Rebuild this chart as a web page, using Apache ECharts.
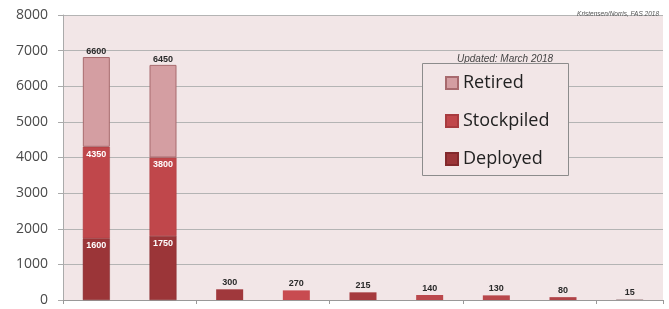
<!DOCTYPE html>
<html>
<head>
<meta charset="utf-8">
<script src="https://cdn.jsdelivr.net/npm/echarts@6/dist/echarts.min.js"></script>
<style>
  html, body { margin: 0; padding: 0; background: #fff; }
  #chart { width: 669px; height: 309px; }
</style>
</head>
<body>
<div id="chart"></div>
<script>
// categories (no labels shown on the axis)
const countries = ['Russia', 'United States', 'France', 'China', 'United Kingdom', 'Pakistan', 'India', 'Israel', 'North Korea'];

// stacked segments for the two big bars, as drawn
const deployed = [1730, 1800, '-', '-', '-', '-', '-', '-', '-'];
const stockpiled = [2570, 2200, '-', '-', '-', '-', '-', '-', '-'];
const retired = [2520, 2600, '-', '-', '-', '-', '-', '-', '-'];

// texts written on the segments
const deployedLabels = ['1600', '1750'];
const stockpiledLabels = ['4350', '3800'];
const totalLabels = ['6600', '6450'];

// the smaller arsenals
const others = ['-', '-', 300, 270, 215, 140, 130, 80, 15];
const otherColors = ['', '', '#a0383c', '#c84b50', '#a53a3e', '#bb484c', '#b8474b', '#b04347', '#9a7c7e'];

const yTicks = [0, 8000, 1000];

const pink = '#f2e6e7';
const myChart = echarts.init(document.getElementById('chart'));

const option = {
    backgroundColor: '#fff',
    animation: false,
    title: [{
        text: 'Updated: March 2018',
        left: 452, top: 49,
        textStyle: {fontSize: 10, fontStyle: 'italic', fontWeight: 'normal', color: '#444', fontFamily: 'Liberation Sans'}
    }, {
        text: 'Kristensen/Norris, FAS 2018',
        right: 5, top: 6,
        textStyle: {fontSize: 6.5, fontStyle: 'italic', fontWeight: 'normal', color: '#555', fontFamily: 'Liberation Sans'}
    }],
    graphic: {
        elements: [{
            type: 'rect', left: 422, top: 63, z: 10,
            shape: {width: 146, height: 112},
            style: {fill: pink, stroke: '#8c8c8c', lineWidth: 1}
        }]
    },
    legend: {
        data: ['Retired', 'Stockpiled', 'Deployed'],
        orient: 'vertical',
        left: 445, top: 73, z: 20,
        padding: 0,
        itemWidth: 12, itemHeight: 12, itemGap: 18,
        icon: 'rect',
        textStyle: {fontSize: 18, lineHeight: 20, color: '#222', fontFamily: 'Open Sans'}
    },
    grid: {
        left: 63, right: 6, top: 15, bottom: 9,
        show: true, backgroundColor: pink, borderWidth: 0
    },
    xAxis: {
        type: 'category',
        data: countries,
        axisLine: {lineStyle: {color: '#999', width: 1}},
        axisTick: {show: true, length: 4, lineStyle: {color: '#999'}},
        axisLabel: {show: false}
    },
    yAxis: {
        type: 'value',
        min: yTicks[0], max: yTicks[1], interval: yTicks[2],
        axisLine: {show: true, lineStyle: {color: '#aaa'}},
        axisTick: {show: true, length: 5, lineStyle: {color: '#aaa'}},
        axisLabel: {fontSize: 14, color: '#4a4a4a', margin: 15, fontFamily: 'Open Sans', formatter: v => String(v)},
        splitLine: {lineStyle: {color: '#b4b4b4', width: 1}}
    },
    series: [{
        name: 'Deployed', type: 'bar', stack: 'total', barWidth: 27,
        data: deployed,
        itemStyle: {color: '#9b3538', borderColor: '#82292c', borderWidth: 0.5},
        label: {
            show: true, position: 'insideTop', distance: 3,
            fontSize: 9, fontWeight: 'bold', color: '#fff', fontFamily: 'Liberation Sans',
            formatter: p => deployedLabels[p.dataIndex] || ''
        }
    }, {
        name: 'Stockpiled', type: 'bar', stack: 'total', barWidth: 27,
        data: stockpiled,
        itemStyle: {color: '#c0474b', borderColor: '#a83b3f', borderWidth: 0.5},
        label: {
            show: true, position: 'insideTop', distance: 3,
            fontSize: 9, fontWeight: 'bold', color: '#fff', fontFamily: 'Liberation Sans',
            formatter: p => stockpiledLabels[p.dataIndex] || ''
        }
    }, {
        name: 'Retired', type: 'bar', stack: 'total', barWidth: 27,
        data: retired,
        itemStyle: {color: '#d49ea2', borderColor: '#a86a6e', borderWidth: 1},
        label: {
            show: true, position: 'top', distance: 1,
            fontSize: 9, fontWeight: 'bold', color: '#2a2a2a', fontFamily: 'Liberation Sans',
            formatter: p => totalLabels[p.dataIndex] || ''
        }
    }, {
        name: 'Other', type: 'bar', stack: 'total', barWidth: 27,
        data: others.map((v, i) => v === '-' ? v : {value: v, itemStyle: {color: otherColors[i]}}),
        label: {
            show: true, position: 'top', distance: 2,
            fontSize: 9, fontWeight: 'bold', color: '#2a2a2a', fontFamily: 'Liberation Sans'
        }
    }]
};

myChart.setOption(option);
</script>
</body>
</html>
